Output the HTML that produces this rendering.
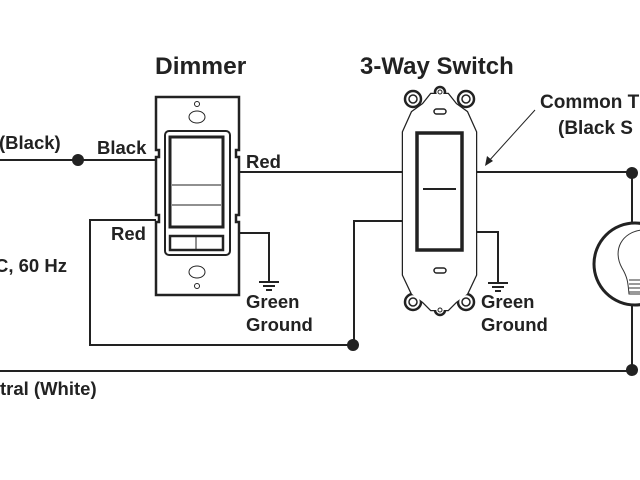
<!DOCTYPE html>
<html><head><meta charset="utf-8"><style>
html,body{margin:0;padding:0;background:#fff;}
svg{display:block;}
text{font-family:"Liberation Sans",Arial,sans-serif;font-weight:bold;fill:#222;}
</style></head><body>
<svg width="640" height="480" viewBox="0 0 640 480" xmlns="http://www.w3.org/2000/svg">
<g stroke="#222" fill="none" stroke-width="2">
<line x1="0" y1="160" x2="156" y2="160"/>
<line x1="238" y1="172" x2="404" y2="172"/>
<polyline points="156,220 90,220 90,345 354,345 354,221 404,221"/>
<polyline points="238,233 269,233 269,281"/>
<line x1="0" y1="371" x2="632" y2="371"/>
<line x1="476" y1="172" x2="632" y2="172"/>
<polyline points="476,232 498,232 498,282"/>
<line x1="632" y1="172" x2="632" y2="224"/>
<line x1="632" y1="304" x2="632" y2="371"/>
</g>
<g stroke="#222" stroke-width="2">
<line x1="259" y1="282" x2="279" y2="282"/><line x1="263" y1="286" x2="275" y2="286"/><line x1="266" y1="290" x2="272" y2="290"/>
<line x1="488" y1="283" x2="508" y2="283"/><line x1="492" y1="287" x2="504" y2="287"/><line x1="495" y1="291" x2="501" y2="291"/>
</g>
<g fill="#222"><circle cx="78" cy="160" r="6"/><circle cx="353" cy="345" r="6"/><circle cx="632" cy="173" r="6"/><circle cx="632" cy="370" r="6"/></g>
<g stroke="#222" fill="#fff">
<path d="M156,97 H239 V150 H236 V157 H239 V215 H236 V222 H239 V295 H156 V222 H159 V215 H156 V157 H159 V150 H156 Z" stroke-width="2.5"/>
<rect x="165" y="131" width="65" height="124" rx="4" stroke-width="2"/>
<rect x="170" y="137" width="53" height="90" stroke-width="3"/>
<line x1="172" y1="185" x2="221" y2="185" stroke-width="1"/>
<line x1="172" y1="205" x2="221" y2="205" stroke-width="1"/>
<rect x="170" y="236" width="53" height="14" stroke-width="2.5"/>
<line x1="196" y1="236" x2="196" y2="250" stroke-width="1"/>
<circle cx="197" cy="104" r="2.5" stroke-width="1"/><ellipse cx="197" cy="117" rx="8" ry="6" stroke-width="1"/>
<ellipse cx="197" cy="272" rx="8" ry="6" stroke-width="1"/><circle cx="197" cy="286" r="2.5" stroke-width="1"/>
</g>
<g stroke="#222" fill="#fff" stroke-width="2.5">
<path d="M412,112 L423,104 L431,94 L448,94 L456,104 L467,112 L476,132 V275 L467,294 L456,302 L448,310 L431,310 L423,302 L412,294 L403,275 V132 Z"/>
<circle cx="413" cy="99" r="8"/><circle cx="466" cy="99" r="8"/><circle cx="440" cy="92" r="5"/>
<circle cx="413" cy="302" r="8"/><circle cx="466" cy="302" r="8"/><circle cx="440" cy="310" r="5"/>
<path d="M412,112 L423,104 L431,94 L448,94 L456,104 L467,112 L476,132 V275 L467,294 L456,302 L448,310 L431,310 L423,302 L412,294 L403,275 V132 Z" stroke="none"/>
<circle cx="413" cy="99" r="4" stroke-width="1.5"/><circle cx="466" cy="99" r="4" stroke-width="1.5"/><circle cx="440" cy="92" r="2" stroke-width="1"/>
<circle cx="413" cy="302" r="4" stroke-width="1.5"/><circle cx="466" cy="302" r="4" stroke-width="1.5"/><circle cx="440" cy="310" r="2" stroke-width="1"/>
<rect x="434" y="109" width="12" height="5" rx="2.5" stroke-width="1.5"/>
<rect x="434" y="268" width="12" height="5" rx="2.5" stroke-width="1.5"/>
<rect x="417" y="133" width="45" height="117" stroke-width="3.5"/>
<line x1="423" y1="189" x2="456" y2="189" stroke-width="2"/>
</g>
<circle cx="635" cy="264" r="41" stroke="#222" stroke-width="3" fill="#fff"/>
<path d="M642,230 C622,232 612,250 622,268 C628,278 628,284 629,294 L642,294" stroke="#333" stroke-width="1" fill="none"/>
<g stroke="#333" stroke-width="1"><line x1="629" y1="280" x2="640" y2="280"/><line x1="629" y1="284" x2="640" y2="284"/><line x1="629" y1="288" x2="640" y2="288"/><line x1="629" y1="292" x2="640" y2="292"/></g>
<line x1="535" y1="110" x2="488" y2="162" stroke="#222" stroke-width="1"/>
<polygon points="485,166 487,156 493,161" fill="#222"/>
<text x="155" y="74" font-size="24.5">Dimmer</text>
<text x="360" y="74" font-size="24">3-Way Switch</text>
<text x="540" y="108" font-size="19">Common T</text>
<text x="558" y="134" font-size="19">(Black S</text>
<text x="-1" y="149" font-size="18.5">(Black)</text>
<text x="97" y="154" font-size="18.5">Black</text>
<text x="246" y="168" font-size="18.5">Red</text>
<text x="111" y="240" font-size="18.5">Red</text>
<text x="-5" y="272" font-size="18.5">C, 60 Hz</text>
<text x="246" y="308" font-size="18.5">Green</text>
<text x="246" y="331" font-size="18.5">Ground</text>
<text x="481" y="308" font-size="18.5">Green</text>
<text x="481" y="331" font-size="18.5">Ground</text>
<text x="0" y="395" font-size="18.5">tral (White)</text>
</svg>
</body></html>
